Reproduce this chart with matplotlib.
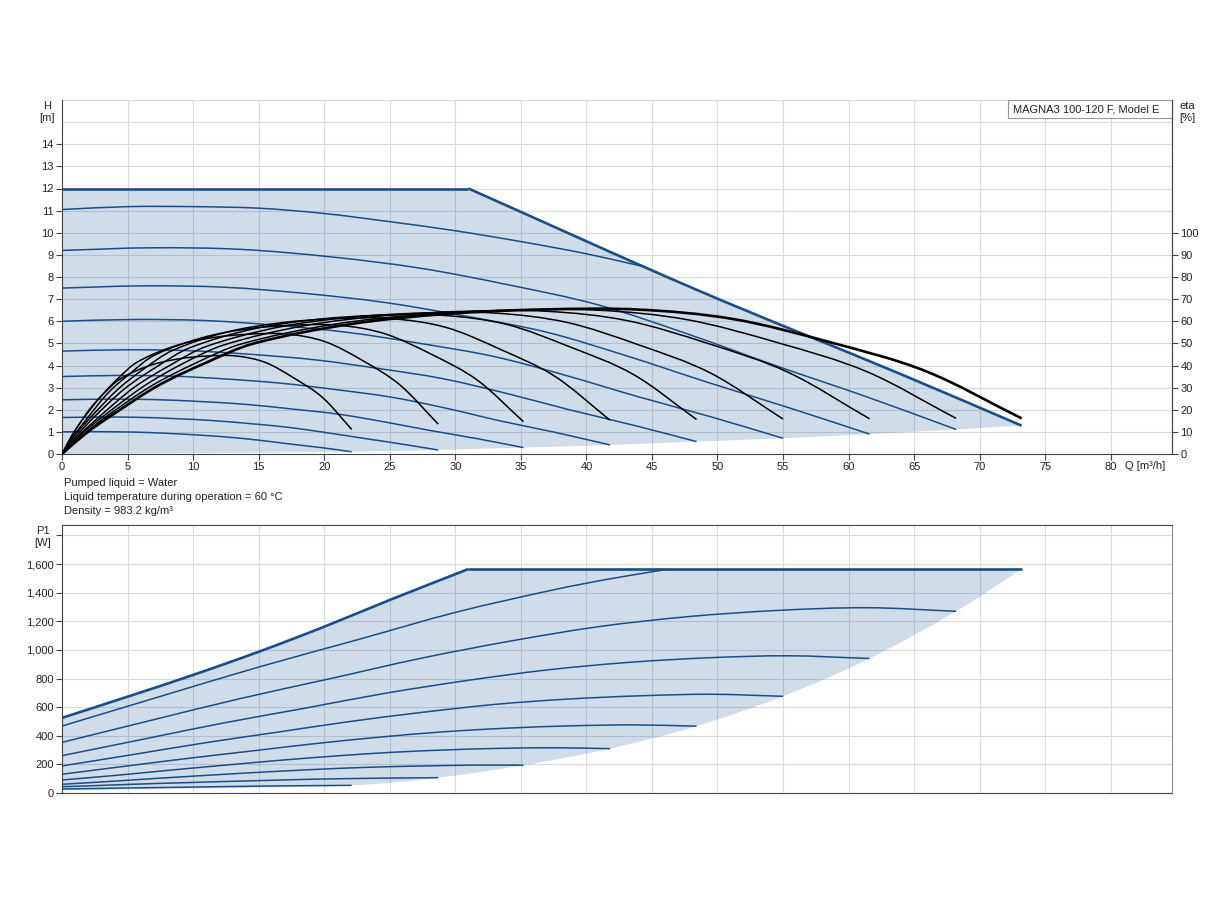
import numpy as np
import matplotlib
matplotlib.use('Agg')
import matplotlib.pyplot as plt
from matplotlib.patches import Rectangle, PathPatch
from matplotlib.path import Path

# ---- head curves H(Q), one list pair per speed step (1 = slowest) ----
q1 = [0, 2.2, 4.4, 6.6, 8.8, 11.1, 13.3, 15.5, 17.7, 19.9, 22.1]
q2 = [0, 2.9, 5.7, 8.6, 11.5, 14.4, 17.2, 20.1, 23.0, 25.8, 28.7]
q3 = [0, 3.5, 7.0, 10.6, 14.1, 17.6, 21.1, 24.6, 28.2, 31.7, 35.2]
q4 = [0, 4.2, 8.4, 12.5, 16.7, 20.9, 25.1, 29.3, 33.4, 37.6, 41.8]
q5 = [0, 4.8, 9.7, 14.5, 19.4, 24.2, 29.0, 33.9, 38.7, 43.6, 48.4]
q6 = [0, 5.5, 11.0, 16.5, 22.0, 27.5, 33.0, 38.5, 44.0, 49.5, 55.0]
q7 = [0, 6.2, 12.3, 18.5, 24.6, 30.8, 37.0, 43.1, 49.3, 55.4, 61.6]
q8 = [0, 6.8, 13.6, 20.5, 27.3, 34.1, 40.9, 47.7, 54.6, 61.4, 68.2]

h1 = [1.0, 1.01, 1.0, 0.97, 0.91, 0.83, 0.73, 0.59, 0.43, 0.28, 0.10]
h2 = [1.65, 1.67, 1.66, 1.60, 1.51, 1.37, 1.21, 0.97, 0.71, 0.46, 0.18]
h3 = [2.45, 2.48, 2.46, 2.37, 2.24, 2.03, 1.80, 1.45, 1.05, 0.69, 0.29]
h4 = [3.5, 3.55, 3.52, 3.39, 3.20, 2.91, 2.57, 2.07, 1.50, 0.98, 0.41]
h5 = [4.65, 4.71, 4.67, 4.50, 4.25, 3.86, 3.41, 2.74, 2.00, 1.30, 0.56]
h6 = [6.0, 6.08, 6.03, 5.81, 5.48, 4.98, 4.40, 3.54, 2.58, 1.68, 0.71]
h7 = [7.5, 7.6, 7.54, 7.26, 6.85, 6.23, 5.50, 4.43, 3.23, 2.10, 0.90]
h8 = [9.2, 9.32, 9.25, 8.91, 8.40, 7.64, 6.74, 5.43, 3.96, 2.58, 1.11]

q9h = [0, 5, 10, 15, 20, 25, 30, 35, 40, 44.5]
h9 = [11.05, 11.18, 11.18, 11.11, 10.87, 10.5, 10.09, 9.6, 9.05, 8.45]

q_hmax = [0, 31, 48.3, 63.9, 73.2]
h_max = [12, 12, 7.45, 3.63, 1.28]

# ---- efficiency curves eta(Q) [%] ----
qe1 = [0, 0.55, 1.1, 2.2, 3.3, 4.4, 6.6, 8.8, 11.1, 13.3, 15.5, 17.7, 19.9, 22.1]
qe2 = [0, 0.7, 1.4, 2.9, 4.3, 5.7, 8.6, 11.5, 14.4, 17.2, 20.1, 23.0, 25.8, 28.7]
qe3 = [0, 0.9, 1.8, 3.5, 5.3, 7.0, 10.6, 14.1, 17.6, 21.1, 24.6, 28.2, 31.7, 35.2]
qe4 = [0, 1.0, 2.1, 4.2, 6.3, 8.4, 12.5, 16.7, 20.9, 25.1, 29.3, 33.4, 37.6, 41.8]
qe5 = [0, 1.2, 2.4, 4.8, 7.3, 9.7, 14.5, 19.4, 24.2, 29.0, 33.9, 38.7, 43.6, 48.4]
qe6 = [0, 1.4, 2.8, 5.5, 8.3, 11.0, 16.5, 22.0, 27.5, 33.0, 38.5, 44.0, 49.5, 55.0]
qe7 = [0, 1.5, 3.1, 6.2, 9.2, 12.3, 18.5, 24.6, 30.8, 37.0, 43.1, 49.3, 55.4, 61.6]
qe8 = [0, 1.7, 3.4, 6.8, 10.2, 13.6, 20.5, 27.3, 34.1, 40.9, 47.7, 54.6, 61.4, 68.2]
qe9 = [0, 1.8, 3.7, 7.3, 11.0, 14.6, 22.0, 29.3, 36.6, 43.9, 51.2, 58.6, 65.9, 73.2]

eta1 = [0, 6.2, 11.6, 20.9, 28.0, 33.8, 39.8, 42.9, 44.3, 44.3, 41.4, 34.3, 25.4, 11.1]
eta2 = [0, 7.6, 14.2, 25.6, 34.3, 41.4, 48.8, 52.6, 54.2, 54.2, 50.7, 42.0, 31.1, 13.5]
eta3 = [0, 8.2, 15.2, 27.5, 36.9, 44.5, 52.4, 56.5, 58.2, 58.2, 54.4, 45.0, 33.3, 14.6]
eta4 = [0, 8.6, 16.0, 28.9, 38.7, 46.7, 55.0, 59.3, 61.2, 61.2, 57.2, 47.4, 35.1, 15.3]
eta5 = [0, 8.8, 16.4, 29.6, 39.7, 47.9, 56.4, 60.8, 62.7, 62.7, 58.6, 48.5, 35.9, 15.6]
eta6 = [0, 9.0, 16.6, 30.1, 40.3, 48.6, 57.3, 61.8, 63.7, 63.7, 59.5, 49.3, 36.5, 15.8]
eta7 = [0, 9.1, 16.8, 30.5, 40.8, 49.2, 58.0, 62.5, 64.5, 64.5, 60.3, 49.9, 36.9, 15.9]
eta8 = [0, 9.1, 17.0, 30.7, 41.1, 49.6, 58.4, 63.0, 65.0, 65.0, 60.7, 50.3, 37.2, 16.1]
eta9 = [0, 9.2, 17.1, 30.8, 41.3, 49.9, 58.7, 63.3, 65.3, 65.3, 61.0, 50.5, 37.4, 16.1]

# ---- power curves P1(Q) [W], same Q points as the head curves ----
p1 = [28, 31, 34, 37, 40, 43, 46, 48.5, 50.5, 52, 53.5]
p2 = [44, 53, 62, 70, 78, 85, 92, 98, 102, 105, 107]
p3 = [61, 80, 101, 121, 140, 157, 172, 183, 190, 195, 194]
p4 = [91, 124, 161, 195, 229, 259, 284, 301, 312, 316, 310]
p5 = [131, 187, 243, 294, 346, 390, 427, 453, 469, 476, 467]
p6 = [189, 270, 352, 426, 500, 564, 619, 656, 679, 690, 676]
p7 = [261, 376, 489, 592, 696, 785, 860, 912, 945, 959, 940]
p8 = [354, 508, 660, 800, 940, 1060, 1162, 1232, 1276, 1295, 1270]

q9p = [0, 7.5, 15, 22.5, 30, 37.5, 42, 46.3]
p9 = [468, 675, 880, 1070, 1262, 1420, 1500, 1565]

q_pmax = [0, 5, 10, 15, 20, 25, 31, 73.2]
p_max = [525, 673, 825, 987, 1162, 1349, 1565, 1565]
p_min_start = 18

info_lines = ["Pumped liquid = Water",
              "Liquid temperature during operation = 60 \u00b0C",
              "Density = 983.2 kg/m\u00b3"]
model_name = "MAGNA3 100-120 F, Model E"

q_speed = [q1, q2, q3, q4, q5, q6, q7, q8]
h_speed = [h1, h2, h3, h4, h5, h6, h7, h8]
p_speed = [p1, p2, p3, p4, p5, p6, p7, p8]
q_eta = [qe1, qe2, qe3, qe4, qe5, qe6, qe7, qe8, qe9]
eta_speed = [eta1, eta2, eta3, eta4, eta5, eta6, eta7, eta8, eta9]

BLUE = '#1b4d86'
FILL = (0.10, 0.32, 0.58, 0.20)
GRID = '#d9d9d9'
SPINE = '#444444'
TXT = '#222222'


def bezier_verts(x, y):
    # cubic pieces through the read points, slopes from neighbouring points
    x = np.asarray(x, float)
    y = np.asarray(y, float)
    n = len(x)
    m = np.empty(n)
    m[0] = (y[1] - y[0]) / (x[1] - x[0])
    m[-1] = (y[-1] - y[-2]) / (x[-1] - x[-2])
    for i in range(1, n - 1):
        m[i] = (y[i + 1] - y[i - 1]) / (x[i + 1] - x[i - 1])
    verts = []
    for i in range(n - 1):
        dx = x[i + 1] - x[i]
        verts += [(x[i] + dx / 3, y[i] + m[i] * dx / 3),
                  (x[i + 1] - dx / 3, y[i + 1] - m[i + 1] * dx / 3),
                  (x[i + 1], y[i + 1])]
    return verts


def smooth_curve(axis, x, y, **kw):
    verts = [(x[0], y[0])] + bezier_verts(x, y)
    codes = [Path.MOVETO] + [Path.CURVE4] * (len(verts) - 1)
    axis.add_patch(PathPatch(Path(verts, codes), fill=False, capstyle='butt',
                             joinstyle='round', **kw))


def area_patch(axis, top_parts, low_x, low_y):
    # top_parts: list of (x, y, smooth?) pieces, then the lower edge backwards
    verts = [(top_parts[0][0][0], top_parts[0][1][0])]
    codes = [Path.MOVETO]
    for x, y, smooth in top_parts:
        if smooth:
            v = bezier_verts(x, y)
            verts += v
            codes += [Path.CURVE4] * len(v)
        else:
            verts += list(zip(x[1:], y[1:]))
            codes += [Path.LINETO] * (len(x) - 1)
    v = bezier_verts(low_x[::-1], low_y[::-1])
    verts += v
    codes += [Path.CURVE4] * len(v)
    verts.append(verts[0])
    codes.append(Path.CLOSEPOLY)
    axis.add_patch(PathPatch(Path(verts, codes), facecolor=FILL,
                             edgecolor='none', zorder=1))


plt.rcParams['font.family'] = ['Liberation Sans', 'DejaVu Sans']
plt.rcParams['font.size'] = 8

W, H = 1224, 900
fig = plt.figure(figsize=(W / 100, H / 100), dpi=100)
ax = fig.add_axes([62 / W, 446 / H, 1110 / W, 354 / H])
axp = fig.add_axes([62 / W, 107 / H, 1110 / W, 268 / H])
XMAX = 84.67

# ---------------- top: head + efficiency ----------------
ax.set_xlim(0, XMAX)
ax.set_ylim(0, 16)

low_q = [0] + [q[-1] for q in q_speed] + [q_hmax[-1]]
low_h = [0] + [h[-1] for h in h_speed] + [h_max[-1]]
area_patch(ax, [(q_hmax[:2], h_max[:2], False), (q_hmax[1:], h_max[1:], True)],
           low_q, low_h)

for q, h in zip(q_speed, h_speed):
    smooth_curve(ax, q, h, edgecolor=BLUE, lw=1.1, zorder=3)
smooth_curve(ax, q9h, h9, edgecolor=BLUE, lw=1.1, zorder=3)
ax.plot(q_hmax[:2], h_max[:2], color=BLUE, lw=1.9, zorder=4,
        solid_capstyle='butt')
smooth_curve(ax, q_hmax[1:], h_max[1:], edgecolor=BLUE, lw=1.9, zorder=4)

ax.set_xticks(range(0, 85, 5))
ax.set_yticks(range(0, 15))
ax.grid(True, color=GRID, lw=0.8)
for yy in (15, 16):
    ax.axhline(yy, color=GRID, lw=0.8, zorder=0.5)
ax.set_axisbelow(True)
ax.spines['top'].set_visible(False)
for s in ('left', 'bottom', 'right'):
    ax.spines[s].set_color(SPINE)
ax.tick_params(direction='out', length=4, color=SPINE, labelcolor=TXT, pad=2)

ax2 = ax.twinx()
ax2.set_xlim(0, XMAX)
ax2.set_ylim(0, 160)
ax2.set_yticks(range(0, 101, 10))
for s in ('left', 'top', 'bottom'):
    ax2.spines[s].set_visible(False)
ax2.spines['right'].set_color(SPINE)
ax2.tick_params(direction='out', length=4, color=SPINE, labelcolor=TXT, pad=2)
for i, (q, e) in enumerate(zip(q_eta, eta_speed)):
    smooth_curve(ax2, q, e, edgecolor='black',
                 lw=1.9 if i == len(q_eta) - 1 else 1.1, zorder=5)

fig.text(47 / W, 1 - 112 / H, "H\n[m]", ha='center', va='center', color=TXT,
         linespacing=1.3)
fig.text(1187 / W, 1 - 112 / H, "eta\n[%]", ha='center', va='center', color=TXT,
         linespacing=1.3)
fig.text(1125 / W, 1 - 466 / H, "Q [m\u00b3/h]", ha='left', va='center', color=TXT)

# model name box in the top right corner
ax.add_patch(Rectangle((0.8523, 0.948), 0.1477, 0.052, transform=ax.transAxes,
                       facecolor='white', edgecolor='#999999', lw=0.8,
                       zorder=6, clip_on=False))
ax.text(0.8568, 0.974, model_name, transform=ax.transAxes, ha='left',
        va='center', color=TXT, zorder=7)

for k, line in enumerate(info_lines):
    fig.text(64 / W, 1 - (483 + 14 * k) / H, line, ha='left', va='center',
             color=TXT)

# ---------------- bottom: power ----------------
axp.set_xlim(0, XMAX)
axp.set_ylim(0, 1873)
low_pq = [0] + [q[-1] for q in q_speed] + [q_pmax[-1]]
low_p = [p_min_start] + [p[-1] for p in p_speed] + [p_max[-1]]
area_patch(axp, [(q_pmax[:-1], p_max[:-1], True), (q_pmax[-2:], p_max[-2:], False)],
           low_pq, low_p)
for q, p in zip(q_speed, p_speed):
    smooth_curve(axp, q, p, edgecolor=BLUE, lw=1.1, zorder=3)
smooth_curve(axp, q9p, p9, edgecolor=BLUE, lw=1.1, zorder=3)
smooth_curve(axp, q_pmax[:-1], p_max[:-1], edgecolor=BLUE, lw=1.9, zorder=4)
axp.plot(q_pmax[-2:], p_max[-2:], color=BLUE, lw=1.9, zorder=4,
         solid_capstyle='butt')

axp.set_xticks(range(0, 85, 5))
axp.set_xticklabels([])
axp.set_yticks(range(0, 1801, 200))
axp.set_yticklabels([f"{v:,}" for v in range(0, 1601, 200)] + [""])
axp.grid(True, color=GRID, lw=0.8)
axp.set_axisbelow(True)
for s in ('left', 'bottom', 'top'):
    axp.spines[s].set_color(SPINE)
axp.spines['right'].set_color('#888888')
axp.tick_params(axis='y', direction='out', length=4, color=SPINE,
                labelcolor=TXT, pad=2)
axp.tick_params(axis='x', length=0)

fig.text(43 / W, 1 - 537 / H, "P1\n[W]", ha='center', va='center', color=TXT,
         linespacing=1.3)

fig.savefig('out.png', dpi=100)
